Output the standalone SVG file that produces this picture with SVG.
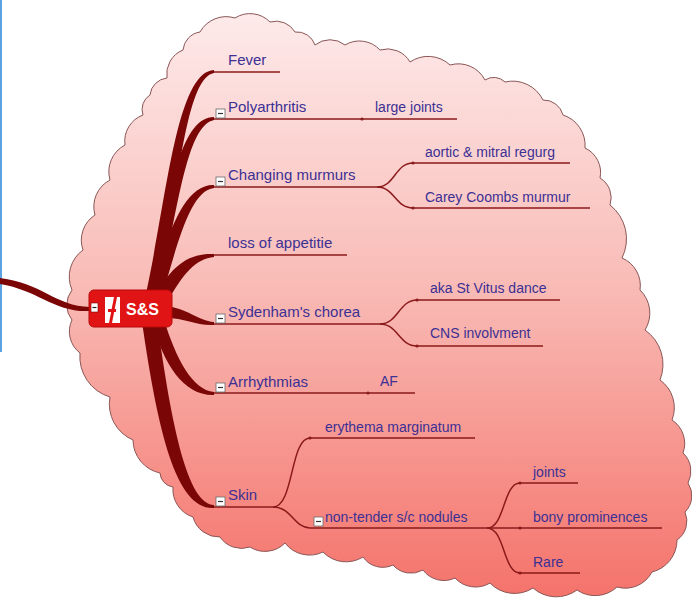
<svg xmlns="http://www.w3.org/2000/svg" width="692" height="599" viewBox="0 0 692 599">
<defs>
<linearGradient id="cloudGrad" x1="0" y1="0" x2="0" y2="1">
<stop offset="0" stop-color="#fdeaea"/>
<stop offset="0.45" stop-color="#f9bdb8"/>
<stop offset="1" stop-color="#f4736b"/>
</linearGradient>
<style>
.t{font-family:"Liberation Sans",Arial,sans-serif;font-size:15px;fill:#3c3094}
.s{font-family:"Liberation Sans",Arial,sans-serif;font-size:14px;fill:#3c3094}
.ul{fill:none;stroke:#8b1a1a;stroke-width:1.5}
.br{fill:#7a0606}
.box{fill:#ffffff;stroke:#6a6a6a;stroke-width:0.8}
.minus{stroke:#333;stroke-width:1.2}
.dot{fill:#8b1a1a}
</style>
</defs>
<rect width="692" height="599" fill="#ffffff"/>
<rect x="0" y="0" width="2" height="352" fill="#5aa3e0"/>
<path id="cloud" fill="url(#cloudGrad)" stroke="#8a5656" stroke-width="1"
d="M143,115 A17,17 0 0 1 150,95 A19,19 0 0 1 167,78 A26,26 0 0 1 183,50 A20,20 0 0 1 200,32 A30,30 0 0 1 235,18 A28,28 0 0 1 270,22 A22,22 0 0 1 295,32 A19,19 0 0 1 315,45 A24,24 0 0 1 345,45 A28,28 0 0 1 380,50 A26,26 0 0 1 410,62 A32,32 0 0 1 450,65 A30,30 0 0 1 485,80 A16,16 0 0 1 505,82 A34,34 0 0 1 543,100 A20,20 0 0 1 563,115 A32,32 0 0 1 585,148 A27,27 0 0 1 600,178 A23,23 0 0 1 610,205 A43,43 0 0 1 622,258 A30,30 0 0 1 640,290 A32,32 0 0 1 645,330 A42,42 0 0 1 660,380 A34,34 0 0 1 672,420 A28,28 0 0 1 683,453 A25,25 0 0 1 688,483 A23,23 0 0 1 685,512 A23,23 0 0 1 677,540 A33,33 0 0 1 652,572 A30,30 0 0 1 617,587 A32,32 0 0 1 577,590 A35,35 0 0 1 533,588 A34,34 0 0 1 490,583 A28,28 0 0 1 455,578 A26,26 0 0 1 423,570 A24,24 0 0 1 393,565 A24,24 0 0 1 363,557 A32,32 0 0 1 323,552 A31,31 0 0 1 285,543 A28,28 0 0 1 250,547 A26,26 0 0 1 220,537 A27,27 0 0 1 193,517 A29,29 0 0 1 173,487 A15,15 0 0 1 160,473 A34,34 0 0 1 133,440 A39,39 0 0 1 110,397 A42,42 0 0 1 80,353 A27,27 0 0 1 72,320 A24,24 0 0 1 72,290 A33,33 0 0 1 83,250 A30,30 0 0 1 95,215 A30,30 0 0 1 110,180 A30,30 0 0 1 125,145 A28,28 0 0 1 143,115 Z"/>
<g id="connectors">
<path class="br" d="M0,278 C42,283 55,306 90,307 L90,311 C55,313 38,290 0,284 Z"/>
<path class="br" d="M145,298 C167,200 176,72 214,70 L214,73 C184,78 178,200 156,298 Z"/>
<path class="br" d="M147,298 C167,210 177,117 214,117 L214,120 C186,126 178,210 158,298 Z"/>
<path class="br" d="M149,298 C166,240 182,184 214,185 L214,188 C190,191 178,242 161,300 Z"/>
<path class="br" d="M154,298 C172,264 190,253 214,254 L214,257 C196,259 184,272 166,304 Z"/>
<path class="br" d="M165,306 C188,308 198,321 214,322 L214,325 C196,326 186,318 165,318 Z"/>
<path class="br" d="M152,322 C164,365 184,396 214,395 L214,392 C192,390 176,358 164,320 Z"/>
<path class="br" d="M142,322 C158,432 176,510 214,508 L214,505 C188,504 172,430 157,320 Z"/>
<path class="ul" d="M377,187 C395,187 395,163 413,163"/>
<path class="ul" d="M377,187 C395,187 395,208 413,208"/>
<path class="ul" d="M380,324 C398,324 399,300 417,300"/>
<path class="ul" d="M380,324 C398,324 399,346 417,346"/>
<path class="ul" d="M273,507 C294,507 290,438 310,438"/>
<path class="ul" d="M273,507 C292,507 294,528 310,528"/>
<path class="ul" d="M487,528 C505,528 503,483 520,483"/>
<path class="ul" d="M487,528 C505,528 503,573 520,573"/>
</g>
<g id="central">
<rect x="89" y="290" width="83" height="37" rx="5" fill="#e01414" stroke="#b80808" stroke-width="1"/>
<rect x="91" y="303" width="7" height="9" fill="#ffffff" stroke="#7a0000" stroke-width="0.6"/>
<line x1="92.5" y1="307.5" x2="96.5" y2="307.5" stroke="#222" stroke-width="1.2"/>
<rect x="105" y="297" width="15" height="26" fill="#ffffff"/>
<path d="M109,323 L114,297 L117,297 L112,323 Z" fill="#e01414"/>
<rect x="108" y="309" width="8" height="3" fill="#e01414"/>
<text x="126" y="315" font-family="Liberation Sans,Arial,sans-serif" font-size="16" font-weight="bold" fill="#ffffff">S&amp;S</text>
</g>
<g id="fever">
<line class="ul" x1="214" y1="72" x2="280" y2="72"/>
<text class="t" x="228" y="65">Fever</text>
</g>
<g id="polyarthritis">
<line class="ul" x1="214" y1="119" x2="362" y2="119"/>
<rect class="box" x="216" y="109" width="9" height="9"/>
<line class="minus" x1="218" y1="113.5" x2="223" y2="113.5"/>
<text class="t" x="228" y="112">Polyarthritis</text>
</g>
<g id="large-joints">
<line class="ul" x1="362" y1="119" x2="457" y2="119"/>
<circle class="dot" cx="362" cy="119" r="1.6"/>
<text class="s" x="375" y="112">large joints</text>
</g>
<g id="changing-murmurs">
<line class="ul" x1="214" y1="187" x2="377" y2="187"/>
<rect class="box" x="216" y="177" width="9" height="9"/>
<line class="minus" x1="218" y1="181.5" x2="223" y2="181.5"/>
<text class="t" x="228" y="180">Changing murmurs</text>
</g>
<g id="aortic">
<line class="ul" x1="413" y1="163" x2="570" y2="163"/>
<circle class="dot" cx="413" cy="163" r="1.6"/>
<text class="s" x="425" y="157">aortic &amp; mitral regurg</text>
</g>
<g id="carey">
<line class="ul" x1="413" y1="208" x2="590" y2="208"/>
<circle class="dot" cx="413" cy="208" r="1.6"/>
<text class="s" x="425" y="202">Carey Coombs murmur</text>
</g>
<g id="loss">
<line class="ul" x1="214" y1="255" x2="347" y2="255"/>
<text class="t" x="228" y="248">loss of appetitie</text>
</g>
<g id="sydenham">
<line class="ul" x1="214" y1="324" x2="380" y2="324"/>
<rect class="box" x="216" y="314" width="9" height="9"/>
<line class="minus" x1="218" y1="318.5" x2="223" y2="318.5"/>
<text class="t" x="228" y="317">Sydenham's chorea</text>
</g>
<g id="vitus">
<line class="ul" x1="417" y1="300" x2="560" y2="300"/>
<circle class="dot" cx="417" cy="300" r="1.6"/>
<text class="s" x="430" y="293">aka St Vitus dance</text>
</g>
<g id="cns">
<line class="ul" x1="417" y1="346" x2="543" y2="346"/>
<circle class="dot" cx="417" cy="346" r="1.6"/>
<text class="s" x="430" y="338">CNS involvment</text>
</g>
<g id="arrhythmias">
<line class="ul" x1="214" y1="393" x2="368" y2="393"/>
<rect class="box" x="216" y="383" width="9" height="9"/>
<line class="minus" x1="218" y1="387.5" x2="223" y2="387.5"/>
<text class="t" x="228" y="387">Arrhythmias</text>
</g>
<g id="af">
<line class="ul" x1="368" y1="393" x2="415" y2="393"/>
<circle class="dot" cx="368" cy="393" r="1.6"/>
<text class="s" x="380" y="386">AF</text>
</g>
<g id="skin">
<line class="ul" x1="214" y1="507" x2="273" y2="507"/>
<rect class="box" x="216" y="497" width="9" height="9"/>
<line class="minus" x1="218" y1="501.5" x2="223" y2="501.5"/>
<text class="t" x="228" y="500">Skin</text>
</g>
<g id="erythema">
<line class="ul" x1="310" y1="438" x2="475" y2="438"/>
<circle class="dot" cx="310" cy="438" r="1.6"/>
<text class="s" x="325" y="432">erythema marginatum</text>
</g>
<g id="nodules">
<line class="ul" x1="310" y1="528" x2="487" y2="528"/>
<rect class="box" x="314" y="517" width="9" height="9"/>
<line class="minus" x1="316" y1="521.5" x2="321" y2="521.5"/>
<text class="s" x="325" y="522">non-tender s/c nodules</text>
</g>
<g id="joints">
<line class="ul" x1="520" y1="483" x2="578" y2="483"/>
<circle class="dot" cx="520" cy="483" r="1.6"/>
<text class="s" x="533" y="477">joints</text>
</g>
<g id="bony">
<line class="ul" x1="487" y1="528" x2="662" y2="528"/>
<circle class="dot" cx="520" cy="528" r="1.6"/>
<text class="s" x="533" y="522">bony prominences</text>
</g>
<g id="rare">
<line class="ul" x1="520" y1="573" x2="580" y2="573"/>
<circle class="dot" cx="520" cy="573" r="1.6"/>
<text class="s" x="533" y="567">Rare</text>
</g>
</svg>
